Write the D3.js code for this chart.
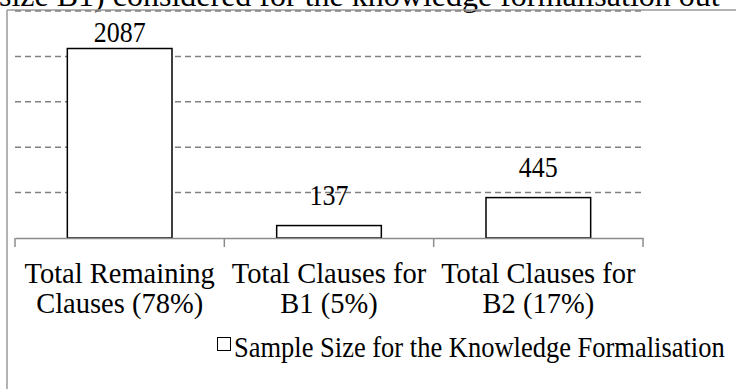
<!DOCTYPE html>
<html><head><meta charset="utf-8">
<script src="https://cdn.jsdelivr.net/npm/d3@7"></script>
<style>body{margin:0;background:#fff;overflow:hidden}svg{display:block}text{font-family:"Liberation Serif","Times New Roman",serif;fill:#000}</style>
</head><body>
<script>
const categories = [["Total Remaining","Clauses (78%)"],["Total Clauses for","B1 (5%)"],["Total Clauses for","B2 (17%)"]];
const values = [2087, 137, 445];
const yTicks = [500, 1000, 1500, 2000, 2500];
const seriesName = "Sample Size for the Knowledge Formalisation";
const bgText = "size B1) considered for the knowledge formalisation out";

const W = 736, H = 389;
const svg = d3.select("body").append("svg").attr("width", W).attr("height", H);

// background document text cut at the top
svg.append("text").attr("x", -1).attr("y", 6).attr("font-size", 32)
  .attr("transform", "scale(1,1)").text(bgText);

// chart frame
svg.append("line").attr("x1", 7).attr("x2", W).attr("y1", 10).attr("y2", 10).attr("stroke", "#9a9a9a").attr("stroke-width", 1.5);
svg.append("line").attr("x1", 7).attr("x2", 7).attr("y1", 10).attr("y2", H).attr("stroke", "#9a9a9a").attr("stroke-width", 1.5);

const x = d3.scaleBand().domain(d3.range(values.length)).range([15, 643]).paddingInner(0.5).paddingOuter(0.25);
const y = d3.scaleLinear().domain([0, 2500]).range([238, 11]);

// gridlines
svg.append("g").selectAll("line").data(yTicks).join("line")
  .attr("x1", 15).attr("x2", 643).attr("y1", d => y(d)).attr("y2", d => y(d))
  .attr("stroke", "#808080").attr("stroke-width", 1.5).attr("stroke-dasharray", "6,4");

// bars
svg.append("g").selectAll("rect").data(values).join("rect")
  .attr("x", (d, i) => x(i)).attr("width", x.bandwidth())
  .attr("y", d => y(d)).attr("height", d => y(0) - y(d))
  .attr("fill", "#fff").attr("stroke", "#000").attr("stroke-width", 1.5);

// x axis
const axis = d3.axisBottom(x).tickSize(0).tickFormat("");
const gx = svg.append("g").attr("transform", `translate(0,${y(0)})`).call(axis);
gx.select(".domain").attr("stroke", "#8c8c8c").attr("stroke-width", 1.5);
const step = x.step();
const bounds = d3.range(values.length + 1).map(i => 15 + i * step);
gx.selectAll(".bt").data(bounds).join("line").attr("class", "bt")
  .attr("x1", d => d).attr("x2", d => d).attr("y1", 0).attr("y2", 9)
  .attr("stroke", "#8c8c8c").attr("stroke-width", 1.5);

// category labels
const lab = svg.append("g").selectAll("text").data(categories).join("text")
  .attr("text-anchor", "middle").attr("font-size", 28.5)
  .attr("transform", (d, i) => `translate(${x(i) + x.bandwidth() / 2},0)`);
lab.selectAll("tspan").data(d => d).join("tspan")
  .attr("x", 0).attr("y", (d, j) => 283 + j * 30).text(d => d);

// value labels
svg.append("g").selectAll("text").data(values).join("text")
  .attr("text-anchor", "middle").attr("font-size", 26)
  .attr("transform", (d, i) => `translate(${x(i) + x.bandwidth() / 2},${Math.max(y(d) - 21, 42)}) scale(1,1.15)`)
  .text(d => d);

// legend
const lg = svg.append("g").attr("transform", "translate(217,337)");
lg.append("rect").attr("x", 0.5).attr("y", 0.5).attr("width", 13).attr("height", 13)
  .attr("fill", "#fff").attr("stroke", "#000").attr("stroke-width", 1);
lg.append("text").attr("x", 17).attr("y", 20).attr("font-size", 26.5)
  .attr("transform", "translate(0,20) scale(1,1.1) translate(0,-20)").text(seriesName);
</script>
</body></html>
